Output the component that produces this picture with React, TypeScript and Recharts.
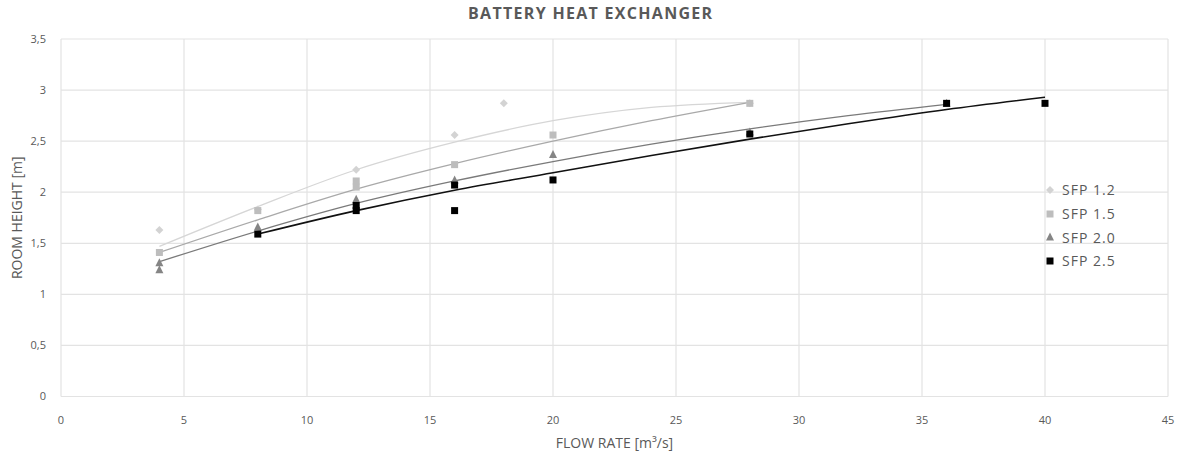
import React from "react";
import { ComposedChart, Line, Scatter, XAxis, YAxis, CartesianGrid } from "recharts";

const xTicks = [0, 5, 10, 15, 20, 25, 30, 35, 40, 45];
const yTicks = [0, 0.5, 1, 1.5, 2, 2.5, 3, 3.5];

const seriesNames = ["SFP 1.2", "SFP 1.5", "SFP 2.0", "SFP 2.5"];

// measured points
const sfp12X = [4, 8, 12, 16, 18, 28];
const sfp12Y = [1.63, 1.83, 2.22, 2.56, 2.87, 2.87];
const sfp15X = [4, 8, 12, 12, 16, 20, 28];
const sfp15Y = [1.41, 1.82, 2.11, 2.05, 2.27, 2.56, 2.87];
const sfp20X = [4, 4, 8, 12, 16, 20, 28, 36];
const sfp20Y = [1.31, 1.24, 1.66, 1.93, 2.12, 2.37, 2.59, 2.87];
const sfp25X = [8, 12, 12, 16, 16, 20, 28, 36, 40];
const sfp25Y = [1.59, 1.87, 1.82, 2.07, 1.82, 2.12, 2.57, 2.87, 2.87];

// trend lines
const trend12X = [4, 8, 12, 16, 20, 24, 28];
const trend12Y = [1.47, 1.86, 2.22, 2.49, 2.70, 2.83, 2.88];
const trend15X = [4, 8, 12, 16, 20, 24, 28];
const trend15Y = [1.41, 1.73, 2.03, 2.28, 2.50, 2.70, 2.88];
const trend20X = [4, 8, 12, 16, 20, 24, 28, 32, 36];
const trend20Y = [1.32, 1.62, 1.89, 2.11, 2.30, 2.47, 2.62, 2.75, 2.86];
const trend25X = [8, 12, 16, 20, 24, 28, 32, 36, 40];
const trend25Y = [1.59, 1.82, 2.02, 2.19, 2.36, 2.52, 2.67, 2.81, 2.93];

const zip = (xs: number[], ys: number[]) => xs.map((x, i) => ({ x, y: ys[i] }));

const markerColors = ["#d3d3d3", "#bdbdbd", "#858585", "#000000"];
const lineColors = ["#d6d6d6", "#a9a9a9", "#7a7a7a", "#111111"];
const markerKinds = ["diamond", "square", "triangle", "square"];

const FONT = "'Open Sans', sans-serif";
const TEXT = "#595959";

function Marker({ kind, cx, cy, fill }: { kind: string; cx: number; cy: number; fill: string }) {
  if (kind === "diamond") {
    return <polygon points={`${cx},${cy - 4} ${cx + 4},${cy} ${cx},${cy + 4} ${cx - 4},${cy}`} fill={fill} />;
  }
  if (kind === "triangle") {
    return <polygon points={`${cx},${cy - 4.5} ${cx + 4},${cy + 3.5} ${cx - 4},${cy + 3.5}`} fill={fill} />;
  }
  return <rect x={cx - 3.5} y={cy - 3.5} width={7} height={7} fill={fill} />;
}

const makeShape = (i: number) => (props: any) => (
  <Marker kind={markerKinds[i]} cx={props.cx} cy={props.cy} fill={markerColors[i]} />
);

const pointSets = [zip(sfp12X, sfp12Y), zip(sfp15X, sfp15Y), zip(sfp20X, sfp20Y), zip(sfp25X, sfp25Y)];
const trendSets = [zip(trend12X, trend12Y), zip(trend15X, trend15Y), zip(trend20X, trend20Y), zip(trend25X, trend25Y)];

function LegendBox() {
  return (
    <div
      style={{
        position: "absolute",
        left: 1043,
        top: 178,
        fontFamily: FONT,
        fontSize: 14,
        letterSpacing: 1,
        color: TEXT,
      }}
    >
      {seriesNames.map((n, i) => (
        <div key={n} style={{ display: "flex", alignItems: "center", height: 23.7 }}>
          <svg width={14} height={14} style={{ marginRight: 5 }}>
            <Marker kind={markerKinds[i]} cx={7} cy={7} fill={markerColors[i]} />
          </svg>
          <span>{n}</span>
        </div>
      ))}
    </div>
  );
}

export default function App() {
  return (
    <div style={{ position: "absolute", left: 0, top: 0, width: 1184, height: 452, background: "#fff" }}>
      <div
        style={{
          position: "absolute",
          left: 468,
          top: 2,
          whiteSpace: "nowrap",
          fontFamily: FONT,
          fontWeight: 700,
          fontSize: 16,
          letterSpacing: 1.3,
          color: TEXT,
        }}
      >
        BATTERY HEAT EXCHANGER
      </div>
      <ComposedChart width={1184} height={452} margin={{ top: 39, right: 16, bottom: 0, left: 0 }}>
        <CartesianGrid stroke="#e3e3e3" strokeWidth={1.2} horizontalValues={yTicks} verticalValues={xTicks} />
        <XAxis
          type="number"
          dataKey="x"
          domain={[0, 45]}
          ticks={xTicks}
          axisLine={false}
          tickLine={false}
          tickMargin={14}
          height={55.5}
          tick={{ fontFamily: FONT, fontSize: 11, fill: TEXT }}
          label={{ value: "FLOW RATE [m³/s]", position: "insideBottom", offset: 4, style: { fontFamily: FONT, fontSize: 14, fill: TEXT } }}
        />
        <YAxis
          type="number"
          dataKey="y"
          domain={[0, 3.5]}
          ticks={yTicks}
          axisLine={false}
          tickLine={false}
          tickMargin={9}
          width={61}
          tickFormatter={(v: number) => String(v).replace(".", ",")}
          tick={{ fontFamily: FONT, fontSize: 11, fill: TEXT }}
          label={{ value: "ROOM HEIGHT [m]", angle: -90, position: "insideLeft", offset: 17, style: { textAnchor: "middle", fontFamily: FONT, fontSize: 14, fill: TEXT } }}
        />
        {trendSets.map((d, i) => (
          <Line
            key={"t" + i}
            data={d}
            dataKey="y"
            type="monotone"
            stroke={lineColors[i]}
            strokeWidth={i === 3 ? 1.6 : 1.3}
            dot={false}
            activeDot={false}
            isAnimationActive={false}
            legendType="none"
          />
        ))}
        {pointSets.map((d, i) => (
          <Scatter
            key={"s" + i}
            name={seriesNames[i]}
            data={d}
            dataKey="y"
            fill={markerColors[i]}
            shape={makeShape(i)}
            isAnimationActive={false}
          />
        ))}
      </ComposedChart>
      <LegendBox />
    </div>
  );
}
